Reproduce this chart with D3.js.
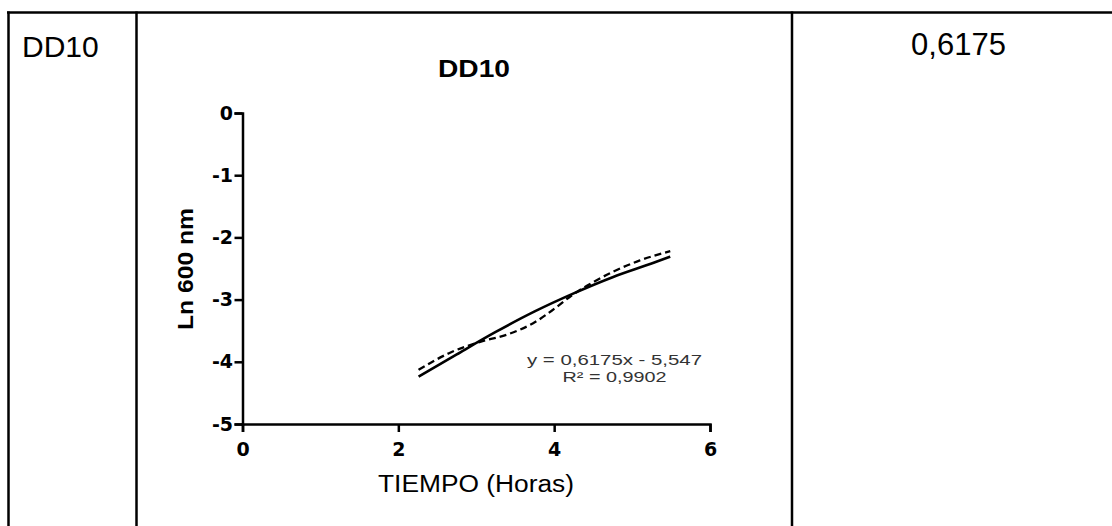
<!DOCTYPE html>
<html>
<head>
<meta charset="utf-8">
<script src="https://cdn.jsdelivr.net/npm/d3@7"></script>
<style>
  html, body { margin: 0; padding: 0; background: #fff; }
  svg { display: block; }
</style>
</head>
<body>
<svg id="chart" width="1112" height="526"></svg>
<script>
// ---- data ----
const rowLabel = "DD10";
const slopeValue = "0,6175";
const chartTitle = "DD10";
const xLabel = "TIEMPO (Horas)";
const yLabel = "Ln 600 nm";
const equationLines = ["y = 0,6175x - 5,547", "R\u00b2 = 0,9902"];
const xTicks = [0, 2, 4, 6];
const yTicks = [0, -1, -2, -3, -4, -5];
// solid line (fitted curve)
const fitX = [2.26, 2.75, 3.25, 3.75, 4.25, 4.75, 5.25, 5.49];
const fitY = [-4.24, -3.88, -3.52, -3.19, -2.90, -2.64, -2.42, -2.31];
// dashed line (measured)
const obsX = [2.26, 2.67, 3.05, 3.40, 3.73, 4.00, 4.24, 4.50, 4.76, 5.10, 5.49];
const obsY = [-4.13, -3.85, -3.68, -3.56, -3.38, -3.15, -2.92, -2.72, -2.55, -2.37, -2.22];

const svg = d3.select("#chart");
const font = "'Liberation Sans', Arial, sans-serif";
const wideFont = "'DejaVu Sans', sans-serif";

// ---- table frame ----
const frame = svg.append("g").attr("stroke", "#000").attr("stroke-width", 2.5);
frame.append("line").attr("x1", 7).attr("x2", 1112).attr("y1", 12.5).attr("y2", 12.5);
[8.5, 136.5, 792].forEach(x => {
  frame.append("line").attr("x1", x).attr("x2", x).attr("y1", 11.5).attr("y2", 526);
});

svg.append("text").attr("x", 22).attr("y", 57)
  .attr("font-family", font).attr("font-size", 30).attr("fill", "#000")
  .text(rowLabel);
svg.append("text").attr("x", 958.5).attr("y", 55).attr("text-anchor", "middle")
  .attr("font-family", font).attr("font-size", 31).attr("fill", "#000")
  .text(slopeValue);

// ---- chart ----
const x = d3.scaleLinear().domain([0, 6]).range([242.5, 710]);
const y = d3.scaleLinear().domain([-5, 0]).range([424, 113]);

svg.append("text").attr("x", 474).attr("y", 77).attr("text-anchor", "middle")
  .attr("font-family", font).attr("font-size", 24).attr("font-weight", "bold")
  .attr("textLength", 72).attr("lengthAdjust", "spacingAndGlyphs")
  .text(chartTitle);

const xAxis = svg.append("g").attr("transform", `translate(0,${y(-5)})`)
  .call(d3.axisBottom(x).tickValues(xTicks).tickSize(8).tickPadding(11).tickFormat(d3.format("d")));
const yAxis = svg.append("g").attr("transform", `translate(${x(0)},0)`)
  .call(d3.axisLeft(y).tickValues(yTicks).tickSize(8).tickPadding(1.5).tickFormat(d => d < 0 ? "-" + Math.abs(d) : d));

[xAxis, yAxis].forEach(g => {
  g.select(".domain").attr("stroke", "#000").attr("stroke-width", 2.5);
  g.selectAll(".tick line").attr("stroke", "#000").attr("stroke-width", 2.5);
  g.selectAll(".tick text").attr("font-family", wideFont).attr("font-size", 19)
    .attr("font-weight", "bold").attr("fill", "#000");
});

svg.append("text").attr("x", 476).attr("y", 492).attr("text-anchor", "middle")
  .attr("font-family", font).attr("font-size", 23).attr("fill", "#000")
  .attr("textLength", 196).attr("lengthAdjust", "spacingAndGlyphs")
  .text(xLabel);
svg.append("text").attr("transform", "translate(193,269) rotate(-90)").attr("text-anchor", "middle")
  .attr("font-family", font).attr("font-size", 22).attr("font-weight", "bold").attr("fill", "#000")
  .attr("textLength", 122).attr("lengthAdjust", "spacingAndGlyphs")
  .text(yLabel);

const line = d3.line().x(d => x(d[0])).y(d => y(d[1])).curve(d3.curveMonotoneX);
svg.append("path").datum(fitX.map((v, i) => [v, fitY[i]]))
  .attr("d", line).attr("fill", "none").attr("stroke", "#000").attr("stroke-width", 2.6);
svg.append("path").datum(obsX.map((v, i) => [v, obsY[i]]))
  .attr("d", line).attr("fill", "none").attr("stroke", "#000").attr("stroke-width", 2.3)
  .attr("stroke-dasharray", "7,4");

const eqWidths = [175, 104];
equationLines.forEach((t, i) => {
  svg.append("text").attr("x", 614.5).attr("y", 365 + i * 17).attr("text-anchor", "middle")
    .attr("font-family", font).attr("font-size", 15).attr("fill", "#333")
    .attr("textLength", eqWidths[i]).attr("lengthAdjust", "spacingAndGlyphs")
    .text(t);
});
</script>
</body>
</html>
